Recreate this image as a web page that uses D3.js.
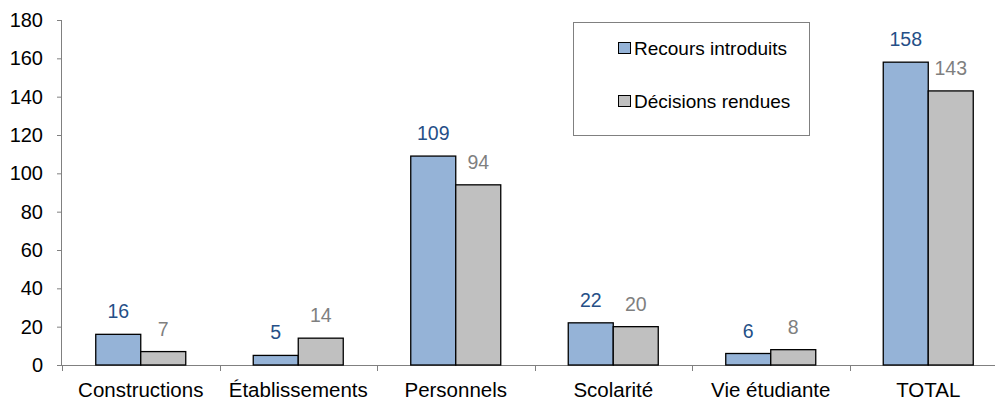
<!DOCTYPE html>
<html><head><meta charset="utf-8">
<script src="https://cdn.jsdelivr.net/npm/d3@7"></script>
<style>
html,body{margin:0;padding:0;background:#fff;overflow:hidden}
svg{display:block;font-family:"Liberation Sans",Arial,sans-serif}
</style></head><body>
<svg id="c" width="995" height="403"></svg>
<script>
const categories = ["Constructions","Établissements","Personnels","Scolarité","Vie étudiante","TOTAL"];
const seriesNames = ["Recours introduits","Décisions rendues"];
const recours = [16,5,109,22,6,158];
const decisions = [7,14,94,20,8,143];
const yTicks = [0,20,40,60,80,100,120,140,160,180];

(function(){
const fills = ["#95B3D7","#C0C0C0"];
const labelColors = ["#254F87","#7F7F7F"];

const svg = d3.select("#c");
const pLeft = 62, pRight = 1007, pTop = 20, pBottom = 365;
const x = d3.scaleBand().domain(categories).range([pLeft,pRight]).paddingInner(0).paddingOuter(0);
const y = d3.scaleLinear().domain([0,180]).range([pBottom,pTop]);
const x1 = d3.scaleBand().domain(seriesNames).range([0,90]);
const groupOffset = (x.bandwidth()-90)/2;

// y axis
const ya = svg.append("g").attr("transform",`translate(${pLeft},0)`)
  .call(d3.axisLeft(y).tickValues(yTicks).tickSize(5).tickPadding(14));
ya.select(".domain").attr("stroke","#808080").attr("d",`M-0.5,${pTop}V${pBottom}`);
ya.selectAll(".tick line").attr("stroke","#808080");
ya.selectAll(".tick text").attr("fill","#000").style("font-size","20px").style("font-family","Liberation Sans, Arial, sans-serif");

// x axis
const xa = svg.append("g").attr("transform",`translate(0,${pBottom})`)
  .call(d3.axisBottom(x).tickSize(0).tickPadding(17));
xa.select(".domain").attr("stroke","#808080").attr("d",`M${pLeft},0.5H${pRight}`);
xa.selectAll(".tick text").attr("fill","#000").style("font-size","20.5px").style("font-family","Liberation Sans, Arial, sans-serif");
// boundary ticks
const bounds = categories.map(c=>x(c)).concat([pRight]);
svg.append("g").selectAll("line").data(bounds).join("line")
  .attr("x1",d=>Math.round(d)+0.5).attr("x2",d=>Math.round(d)+0.5)
  .attr("y1",pBottom).attr("y2",pBottom+6).attr("stroke","#808080");

const series = [recours,decisions];
series.forEach((vals,si)=>{
  const g = svg.append("g");
  g.selectAll("rect").data(vals).join("rect")
    .attr("x",(d,i)=>x(categories[i])+groupOffset+x1(seriesNames[si]))
    .attr("y",d=>y(d))
    .attr("width",x1.bandwidth())
    .attr("height",d=>pBottom-y(d))
    .attr("fill",fills[si]).attr("stroke","#000").attr("stroke-width",1.3);
  g.selectAll("text").data(vals).join("text")
    .attr("x",(d,i)=>x(categories[i])+groupOffset+x1(seriesNames[si])+x1.bandwidth()/2)
    .attr("y",d=>y(d)-16)
    .attr("text-anchor","middle")
    .attr("fill",labelColors[si]).style("font-size","19.5px")
    .text(d=>d);
});

// legend
const lg = svg.append("g");
lg.append("rect").attr("x",573.5).attr("y",22.5).attr("width",236).attr("height",113)
  .attr("fill","#fff").attr("stroke","#808080").attr("stroke-width",1);
seriesNames.forEach((n,i)=>{
  const cy = 48 + i*53;
  lg.append("rect").attr("x",618.5).attr("y",cy-5.5).attr("width",12).attr("height",11)
    .attr("fill",fills[i]).attr("stroke","#000").attr("stroke-width",1);
  lg.append("text").attr("x",634).attr("y",cy).attr("dy","0.35em")
    .attr("fill","#000").style("font-size","19px").text(n);
});
})();
</script>
</body></html>
